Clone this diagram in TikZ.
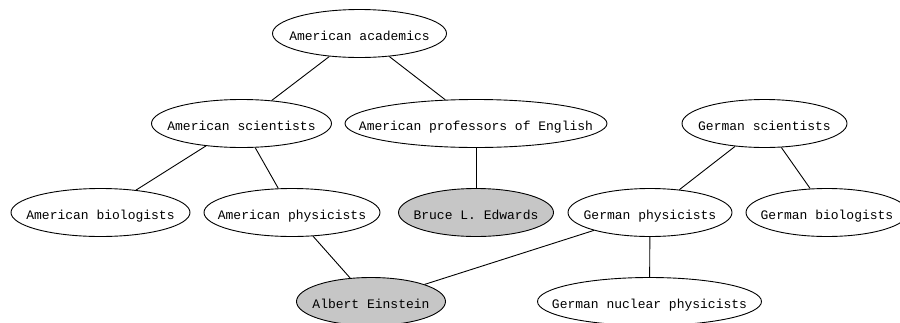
\documentclass[tikz,border=0pt]{standalone}
\usepackage{fontspec}
\setmonofont{Liberation Mono}
\usetikzlibrary{shapes.geometric}

\begin{document}
\begin{tikzpicture}[%
        x = 1pt,
        y = -1pt,
        line width = 0.9pt,
        category/.style = {
            draw = black,
            ellipse,
            inner xsep = -40pt,
            inner ysep = 0,
            text height = 13pt,
            text depth = 0pt,
            minimum height = 48pt,
            font = \ttfamily\fontsize{13}{15}\selectfont
        },
        person/.style = {
            category,
            fill = gray!45
        }
    ]

        % Fix the page to the size of the reference.
        \useasboundingbox (0, 0) rectangle (900, 322);

        % Nodes of the upper rows.
        \node[category, minimum width = 174pt] at (359.5, 33.5) (acad) {American academics};
        \node[category, minimum width = 180pt] at (241.5, 123.5) (amsci) {American scientists};
        \node[category, minimum width = 262pt] at (476, 123.5) (amprof) {American professors of English};
        \node[category, minimum width = 165pt] at (764.5, 123.5) (gersci) {German scientists};

        % Nodes of the third row.
        \node[category, minimum width = 179pt] at (100.5, 212.5) (ambio) {American biologists};
        \node[category, minimum width = 176pt] at (292, 212.5) (amphys) {American physicists};
        \node[person, minimum width = 155pt] at (476, 212.5) (edwards) {Bruce L. Edwards};
        \node[category, minimum width = 164pt] at (650, 212.5) (gerphys) {German physicists};
        \node[category, minimum width = 162pt] at (827, 212.5) (gerbio) {German biologists};

        % Nodes of the bottom row.
        \node[person, minimum width = 149pt] at (371, 301.5) (einstein) {Albert Einstein};
        \node[category, minimum width = 224pt] at (649.5, 301.5) (gernuc) {German nuclear physicists};

        % Draw the edges.
        \draw (acad) -- (amsci);
        \draw (acad) -- (amprof);
        \draw (amsci) -- (ambio);
        \draw (amsci) -- (amphys);
        \draw (amprof) -- (edwards);
        \draw (gersci) -- (gerphys);
        \draw (gersci) -- (gerbio);
        \draw (amphys) -- (einstein);
        \draw (gerphys) -- (einstein);
        \draw (gerphys) -- (gernuc);
    \end{tikzpicture}
\end{document}
